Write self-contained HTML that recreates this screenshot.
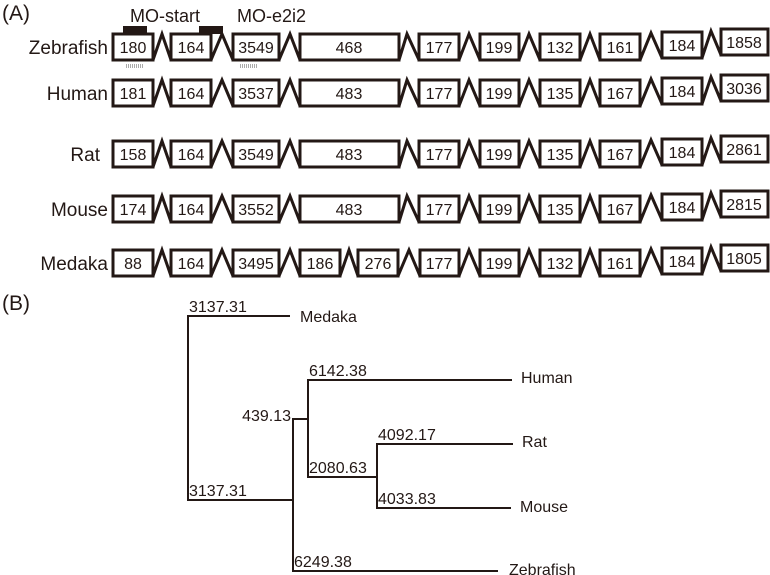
<!DOCTYPE html>
<html><head><meta charset="utf-8"><style>
html,body{margin:0;padding:0;background:#fff;}
svg{display:block;font-family:"Liberation Sans",Arial,sans-serif;}
.b{fill:#fff;stroke:#231815;stroke-width:3;}
.z{fill:none;stroke:#231815;stroke-width:3;stroke-linejoin:miter;}
.t{font-size:16px;text-anchor:middle;fill:#231815;}
.l{font-size:19px;text-anchor:end;fill:#231815;}
.n{font-size:16px;fill:#231815;}
.tr{stroke:#231815;stroke-width:2;fill:none;}
</style></head><body>
<svg width="770" height="575" viewBox="0 0 770 575" xmlns="http://www.w3.org/2000/svg">
<defs>
<g id="zz">
<polyline class="z" points="153,26 162,0 171,26"/>
<polyline class="z" points="211,26 222,0 233,26"/>
<polyline class="z" points="279,26 290,0 300,26"/>
<polyline class="z" points="399,26 407,0 419,26"/>
<polyline class="z" points="459,26 469,0 480,26"/>
<polyline class="z" points="519,26 529,0 540,26"/>
<polyline class="z" points="580,26 590,0 600,26"/>
<polyline class="z" points="640,26 651,-1 662,24"/>
<polyline class="z" points="702,24 711,-3 721,21"/>
</g>
</defs>
<text x="2" y="20" style="font-size:21px" fill="#231815">(A)</text>
<text x="130" y="22" style="font-size:18px" fill="#231815">MO-start</text>
<text x="237" y="22" style="font-size:18px" fill="#231815">MO-e2i2</text>
<rect x="123" y="26" width="24" height="8" fill="#231815"/>
<rect x="199" y="26" width="24" height="8" fill="#231815"/>
<line x1="126" y1="66" x2="143" y2="66" stroke="#aaa" stroke-width="4" stroke-dasharray="1,1"/>
<line x1="240" y1="66" x2="257" y2="66" stroke="#aaa" stroke-width="4" stroke-dasharray="1,1"/>

<!-- Zebrafish -->
<g transform="translate(0,34)">
<text class="l" x="108" y="20">Zebrafish</text>
<use href="#zz"/>
<rect class="b" x="113" y="0" width="40" height="26"/><text class="t" x="133" y="19">180</text>
<rect class="b" x="171" y="0" width="40" height="26"/><text class="t" x="191" y="19">164</text>
<rect class="b" x="233" y="0" width="46" height="26"/><text class="t" x="256" y="19">3549</text>
<rect class="b" x="300" y="0" width="99" height="26"/><text class="t" x="349" y="19">468</text>
<rect class="b" x="419" y="0" width="40" height="26"/><text class="t" x="439" y="19">177</text>
<rect class="b" x="480" y="0" width="39" height="26"/><text class="t" x="499" y="19">199</text>
<rect class="b" x="540" y="0" width="40" height="26"/><text class="t" x="560" y="19">132</text>
<rect class="b" x="600" y="0" width="40" height="26"/><text class="t" x="620" y="19">161</text>
<rect class="b" x="662" y="-2" width="40" height="26"/><text class="t" x="682" y="17">184</text>
<rect class="b" x="721" y="-5" width="47" height="26"/><text class="t" x="744" y="14">1858</text>
</g>
<!-- Human -->
<g transform="translate(0,80)">
<text class="l" x="108" y="20">Human</text>
<use href="#zz"/>
<rect class="b" x="113" y="0" width="40" height="26"/><text class="t" x="133" y="19">181</text>
<rect class="b" x="171" y="0" width="40" height="26"/><text class="t" x="191" y="19">164</text>
<rect class="b" x="233" y="0" width="46" height="26"/><text class="t" x="256" y="19">3537</text>
<rect class="b" x="300" y="0" width="99" height="26"/><text class="t" x="349" y="19">483</text>
<rect class="b" x="419" y="0" width="40" height="26"/><text class="t" x="439" y="19">177</text>
<rect class="b" x="480" y="0" width="39" height="26"/><text class="t" x="499" y="19">199</text>
<rect class="b" x="540" y="0" width="40" height="26"/><text class="t" x="560" y="19">135</text>
<rect class="b" x="600" y="0" width="40" height="26"/><text class="t" x="620" y="19">167</text>
<rect class="b" x="662" y="-2" width="40" height="26"/><text class="t" x="682" y="17">184</text>
<rect class="b" x="721" y="-5" width="47" height="26"/><text class="t" x="744" y="14">3036</text>
</g>
<!-- Rat -->
<g transform="translate(0,141)">
<text class="l" x="100" y="20">Rat</text>
<use href="#zz"/>
<rect class="b" x="113" y="0" width="40" height="26"/><text class="t" x="133" y="19">158</text>
<rect class="b" x="171" y="0" width="40" height="26"/><text class="t" x="191" y="19">164</text>
<rect class="b" x="233" y="0" width="46" height="26"/><text class="t" x="256" y="19">3549</text>
<rect class="b" x="300" y="0" width="99" height="26"/><text class="t" x="349" y="19">483</text>
<rect class="b" x="419" y="0" width="40" height="26"/><text class="t" x="439" y="19">177</text>
<rect class="b" x="480" y="0" width="39" height="26"/><text class="t" x="499" y="19">199</text>
<rect class="b" x="540" y="0" width="40" height="26"/><text class="t" x="560" y="19">135</text>
<rect class="b" x="600" y="0" width="40" height="26"/><text class="t" x="620" y="19">167</text>
<rect class="b" x="662" y="-2" width="40" height="26"/><text class="t" x="682" y="17">184</text>
<rect class="b" x="721" y="-5" width="47" height="26"/><text class="t" x="744" y="14">2861</text>
</g>
<!-- Mouse -->
<g transform="translate(0,196)">
<text class="l" x="108" y="20">Mouse</text>
<use href="#zz"/>
<rect class="b" x="113" y="0" width="40" height="26"/><text class="t" x="133" y="19">174</text>
<rect class="b" x="171" y="0" width="40" height="26"/><text class="t" x="191" y="19">164</text>
<rect class="b" x="233" y="0" width="46" height="26"/><text class="t" x="256" y="19">3552</text>
<rect class="b" x="300" y="0" width="99" height="26"/><text class="t" x="349" y="19">483</text>
<rect class="b" x="419" y="0" width="40" height="26"/><text class="t" x="439" y="19">177</text>
<rect class="b" x="480" y="0" width="39" height="26"/><text class="t" x="499" y="19">199</text>
<rect class="b" x="540" y="0" width="40" height="26"/><text class="t" x="560" y="19">135</text>
<rect class="b" x="600" y="0" width="40" height="26"/><text class="t" x="620" y="19">167</text>
<rect class="b" x="662" y="-2" width="40" height="26"/><text class="t" x="682" y="17">184</text>
<rect class="b" x="721" y="-5" width="47" height="26"/><text class="t" x="744" y="14">2815</text>
</g>
<!-- Medaka -->
<g transform="translate(0,250)">
<text class="l" x="108" y="20">Medaka</text>
<polyline class="z" points="153,26 162,0 171,26"/>
<polyline class="z" points="211,26 222,0 233,26"/>
<polyline class="z" points="279,26 290,0 300,26"/>
<polyline class="z" points="340,26 349,0 358,26"/>
<polyline class="z" points="398,26 409,0 420,26"/>
<polyline class="z" points="459,26 469,0 480,26"/>
<polyline class="z" points="519,26 529,0 540,26"/>
<polyline class="z" points="580,26 590,0 600,26"/>
<polyline class="z" points="640,26 651,-1 662,24"/>
<polyline class="z" points="702,24 711,-3 721,21"/>
<rect class="b" x="113" y="0" width="40" height="26"/><text class="t" x="133" y="19">88</text>
<rect class="b" x="171" y="0" width="40" height="26"/><text class="t" x="191" y="19">164</text>
<rect class="b" x="233" y="0" width="46" height="26"/><text class="t" x="256" y="19">3495</text>
<rect class="b" x="300" y="0" width="40" height="26"/><text class="t" x="320" y="19">186</text>
<rect class="b" x="358" y="0" width="40" height="26"/><text class="t" x="378" y="19">276</text>
<rect class="b" x="420" y="0" width="39" height="26"/><text class="t" x="439" y="19">177</text>
<rect class="b" x="480" y="0" width="39" height="26"/><text class="t" x="499" y="19">199</text>
<rect class="b" x="540" y="0" width="40" height="26"/><text class="t" x="560" y="19">132</text>
<rect class="b" x="600" y="0" width="40" height="26"/><text class="t" x="620" y="19">161</text>
<rect class="b" x="662" y="-2" width="40" height="26"/><text class="t" x="682" y="17">184</text>
<rect class="b" x="721" y="-5" width="47" height="26"/><text class="t" x="744" y="14">1805</text>
</g>

<!-- (B) tree -->
<text x="2" y="310" style="font-size:21px" fill="#231815">(B)</text>
<path class="tr" d="M290,316 H188 V500 H293"/>
<path class="tr" d="M498,571 H293 V419 H308"/>
<path class="tr" d="M512,380 H308 V477 H377"/>
<path class="tr" d="M513,444 H377 V508 H511"/>
<text class="n" x="300" y="322">Medaka</text>
<text class="n" x="521" y="383">Human</text>
<text class="n" x="522" y="447">Rat</text>
<text class="n" x="520" y="512">Mouse</text>
<text class="n" x="509" y="575">Zebrafish</text>
<text class="n" x="189" y="312">3137.31</text>
<text class="n" x="189" y="496">3137.31</text>
<text class="n" x="309" y="376">6142.38</text>
<text class="n" x="291" y="421" text-anchor="end">439.13</text>
<text class="n" x="309" y="473">2080.63</text>
<text class="n" x="378" y="440">4092.17</text>
<text class="n" x="378" y="504">4033.83</text>
<text class="n" x="294" y="567">6249.38</text>
</svg>
</body></html>
